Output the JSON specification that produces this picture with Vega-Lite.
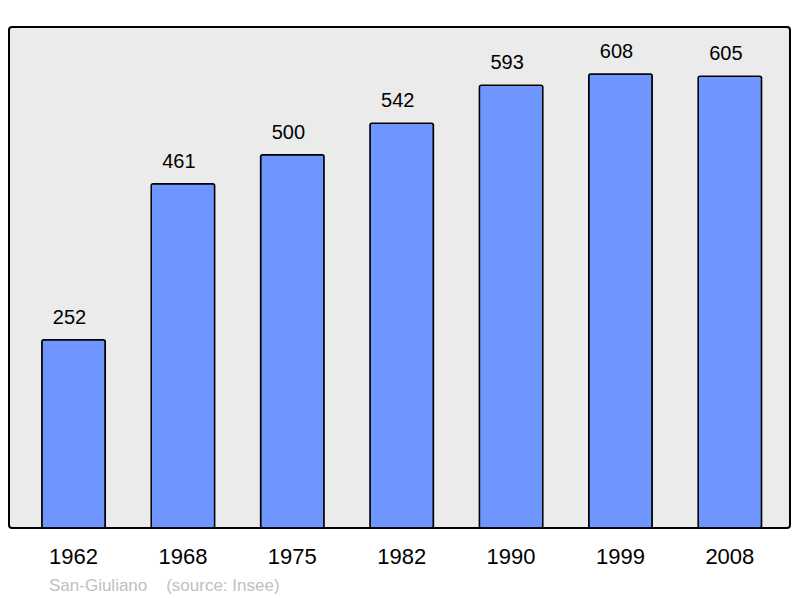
{
  "$schema": "https://vega.github.io/schema/vega-lite/v6.json",
  "width": 781,
  "height": 501,
  "autosize": {"type": "none"},
  "padding": {"left": 9, "top": 27, "right": 10, "bottom": 70},
  "background": "white",
  "config": {
    "font": "Liberation Sans",
    "view": {"stroke": "black", "strokeWidth": 2, "fill": "#ebebeb", "cornerRadius": 3}
  },
  "title": {
    "text": "San-Giuliano\u00a0\u00a0\u00a0\u00a0(source: Insee)",
    "orient": "bottom",
    "anchor": "start",
    "dx": 40,
    "offset": 11,
    "color": "#c0c0c0",
    "fontSize": 17,
    "fontWeight": "normal",
    "font": "Liberation Sans"
  },
  "data": {
    "values": [
      {"year": "1962", "pop": 252},
      {"year": "1968", "pop": 461},
      {"year": "1975", "pop": 500},
      {"year": "1982", "pop": 542},
      {"year": "1990", "pop": 593},
      {"year": "1999", "pop": 608},
      {"year": "2008", "pop": 605}
    ]
  },
  "encoding": {
    "x": {
      "field": "year",
      "type": "nominal",
      "scale": {"paddingInner": 0.42, "paddingOuter": 0.28, "align": 0.536},
      "axis": {"title": null, "labelAngle": 0, "domain": false, "ticks": false, "labelFontSize": 22, "labelColor": "black", "labelPadding": 18, "labelFont": "Liberation Sans", "labelDx": -1}
    },
    "y": {
      "field": "pop",
      "type": "quantitative",
      "scale": {"domain": [0, 671], "nice": false},
      "axis": null
    }
  },
  "layer": [
    {
      "mark": {"type": "bar", "fill": "#6f96ff", "stroke": "black", "strokeWidth": 1.5, "cornerRadius": 2}
    },
    {
      "mark": {"type": "text", "baseline": "bottom", "dy": -12, "dx": -4, "fontSize": 20, "color": "black"},
      "encoding": {"text": {"field": "pop", "type": "quantitative"}}
    }
  ]
}
